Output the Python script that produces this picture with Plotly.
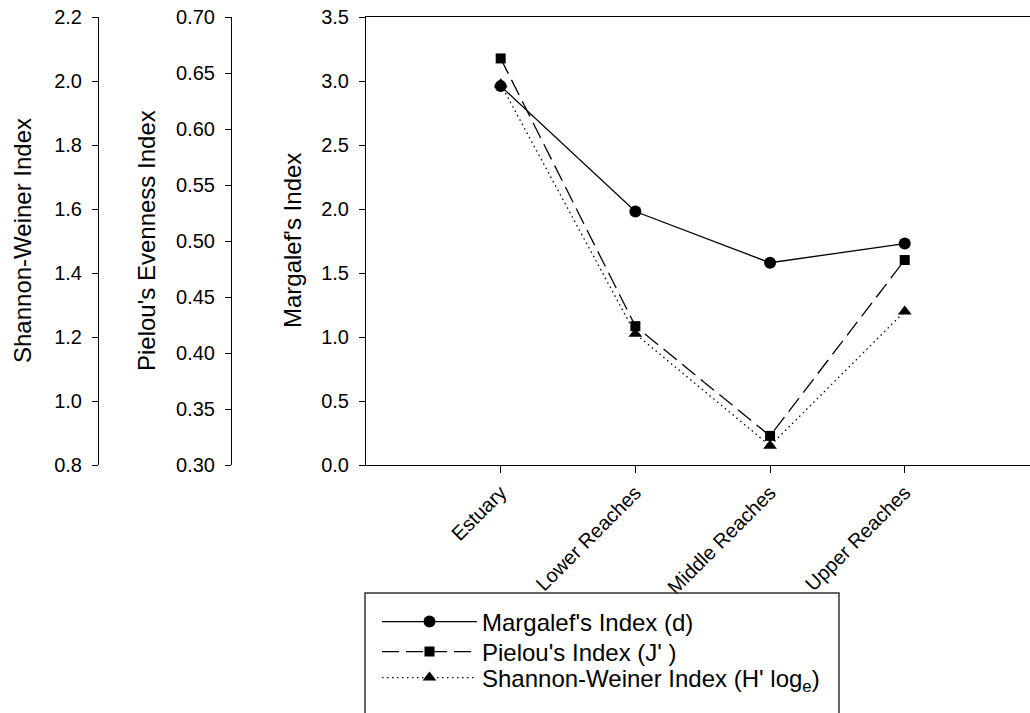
import plotly.graph_objects as go

# Sampling sites along the river
sites = ["Estuary", "Lower Reaches", "Middle Reaches", "Upper Reaches"]

# Diversity indices per site
margalef_d = [2.96, 1.98, 1.58, 1.73]
pielou_j = [0.663, 0.424, 0.326, 0.483]
shannon_h = [1.99, 1.21, 0.86, 1.28]

W, H = 1030, 713
FONT = "Liberation Sans, Arial, sans-serif"
TICK_SIZE = 20
TITLE_SIZE = 24

# pixel geometry of the plotting area
left_px, right_px, top_px, bottom_px = 366, 1030, 17, 465
pielou_axis_px = 231
shannon_axis_px = 98


def px_x(x):
    return x / W


def px_y(y):
    return (bottom_px - y) / (bottom_px - top_px)


fig = go.Figure()

fig.add_trace(go.Scatter(
    x=sites, y=margalef_d, name="Margalef's Index (d)",
    mode="lines+markers", yaxis="y", legend="legend",
    line=dict(color="black", width=1.3),
    marker=dict(symbol="circle", size=12, color="black"),
))
fig.add_trace(go.Scatter(
    x=sites, y=pielou_j, name="Pielou's Index (J' )",
    mode="lines+markers", yaxis="y2", legend="legend2",
    line=dict(color="black", width=1.3, dash="17px,7px"),
    marker=dict(symbol="square", size=10, color="black"),
))
fig.add_trace(go.Scatter(
    x=sites, y=shannon_h, name="Shannon-Weiner Index (H' log<sub>e</sub>)",
    mode="lines+markers", yaxis="y3", legend="legend3",
    line=dict(color="black", width=1.3, dash="1.5px,3.5px"),
    marker=dict(symbol="triangle-up", size=12, color="black"),
))

axis_common = dict(
    showline=True, linecolor="black", linewidth=1,
    ticks="outside", ticklen=6, tickcolor="black", tickwidth=1,
    showgrid=False, zeroline=False, automargin=False,
    tickfont=dict(family=FONT, size=TICK_SIZE, color="black"),
    ticklabelstandoff=6,
)


def legend_at(y_center):
    return dict(
        x=px_x(377), y=px_y(y_center), xanchor="left", yanchor="middle",
        orientation="v", bgcolor="rgba(0,0,0,0)", borderwidth=0,
        font=dict(family=FONT, size=TITLE_SIZE, color="black"),
        itemwidth=95, tracegroupgap=0,
    )


fig.update_layout(
    width=W, height=H, autosize=False,
    margin=dict(l=0, r=0, t=top_px, b=H - bottom_px, pad=0),
    paper_bgcolor="white", plot_bgcolor="white",
    font=dict(family=FONT, color="black"),
    xaxis=dict(
        domain=[px_x(left_px), 1.0], type="category",
        categoryorder="array", categoryarray=sites,
        range=[-1, 3.93], showline=True, linecolor="black", linewidth=1,
        mirror=True, ticks="outside", ticklen=7, tickcolor="black",
        showgrid=False, zeroline=False, automargin=False, tickangle=-45,
        tickfont=dict(family=FONT, size=TICK_SIZE, color="black"),
    ),
    yaxis=dict(range=[0, 3.5], dtick=0.5, tick0=0, tickformat=".1f",
               anchor="x", **axis_common),
    yaxis2=dict(range=[0.3, 0.7], dtick=0.05, tick0=0.3, tickformat=".2f",
                overlaying="y", anchor="free", position=px_x(pielou_axis_px),
                side="left", **axis_common),
    yaxis3=dict(range=[0.8, 2.2], dtick=0.2, tick0=0.8, tickformat=".1f",
                overlaying="y", anchor="free", position=px_x(shannon_axis_px),
                side="left", **axis_common),
    showlegend=True,
    legend=legend_at(622),
    legend2=legend_at(652),
    legend3=legend_at(678),
)

# axis titles
for label, xc in [("Shannon-Weiner Index", 22),
                  ("Pielou's Evenness Index", 146),
                  ("Margalef's Index", 292)]:
    fig.add_annotation(
        text=label, xref="paper", yref="paper",
        x=px_x(xc), y=0.5, xanchor="center", yanchor="middle",
        textangle=-90, showarrow=False,
        font=dict(family=FONT, size=TITLE_SIZE, color="black"),
    )

# legend frame
fig.add_shape(
    type="rect", xref="paper", yref="paper",
    x0=px_x(365), x1=px_x(839), y0=px_y(725), y1=px_y(593),
    line=dict(color="#333333", width=1.5), fillcolor="rgba(0,0,0,0)",
    layer="above",
)

fig.write_html("out.html")
